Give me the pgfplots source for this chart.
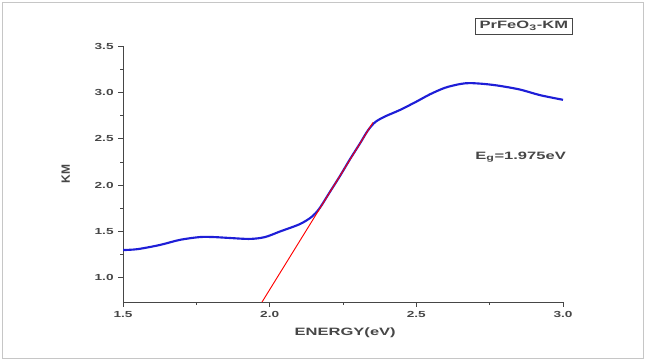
\documentclass[border=0pt]{standalone}
\usepackage{pgfplots}
\pgfplotsset{compat=1.18}
\usepackage{fontspec}
\setmainfont{Liberation Sans}
\newfontfamily\wide[FakeStretch=1.55]{Liberation Sans}
\definecolor{txt}{RGB}{70,70,70}
\definecolor{curve}{RGB}{30,30,215}
\begin{document}
\begin{tikzpicture}
\useasboundingbox (0,0) rectangle (484.5pt,270.75pt);
\draw[gray!45, line width=0.6pt] (2pt,2pt) rectangle (482.5pt,268.75pt);
\begin{axis}[
  at={(92.25pt,44.25pt)}, anchor=south west,
  scale only axis, width=330pt, height=192pt,
  xmin=1.5, xmax=3.0, ymin=0.74, ymax=3.5,
  axis x line*=bottom, axis y line*=left,
  axis line style={txt, line width=0.7pt},
  xtick={1.5,2.0,2.5,3.0}, ytick={1.0,1.5,2.0,2.5,3.0,3.5},
  minor tick num=1,
  tick align=outside,
  major tick length=3.5pt, minor tick length=2pt,
  tick style={txt, line width=0.6pt},
  /pgf/number format/assume math mode=true,
  /pgf/number format/.cd, fixed, fixed zerofill, precision=1, /pgfplots/.cd,
  ticklabel style={font=\wide\fontsize{6.6}{7.5}\selectfont\bfseries, text=txt},
  xlabel={ENERGY(eV)}, ylabel={KM},
  xlabel style={font=\wide\fontsize{8}{10}\selectfont\bfseries, text=txt, at={(axis description cs:0.505,-0.121)}, anchor=center},
  ylabel style={font=\fontsize{9}{10}\selectfont\bfseries, text=txt, at={(axis description cs:-0.13,0.5)}, anchor=center},
  clip mode=individual,
]
\addplot[curve, line width=1.6pt, smooth, tension=0.5] coordinates {
(1.500,1.30) (1.550,1.31) (1.626,1.355) (1.694,1.41) (1.762,1.44) (1.810,1.44)
(1.865,1.43) (1.933,1.42) (1.984,1.44) (2.035,1.50) (2.103,1.58) (2.144,1.66)
(2.170,1.75) (2.206,1.93) (2.240,2.10) (2.274,2.28) (2.308,2.45) (2.335,2.59)
(2.360,2.68) (2.393,2.74) (2.444,2.81) (2.500,2.90) (2.547,2.98) (2.598,3.05)
(2.649,3.09) (2.683,3.10) (2.734,3.09) (2.785,3.07) (2.854,3.03) (2.922,2.97)
(3.000,2.92)
};
\addplot[red, line width=0.7pt] coordinates {(1.974,0.74) (2.352,2.675)};
\node[draw=txt, line width=0.7pt, inner xsep=3pt, inner ysep=2.5pt, font=\wide\fontsize{8}{10}\selectfont\bfseries, text=txt]
  at (axis description cs:0.911,1.078) {PrFeO\textsubscript{3}-KM};
\node[anchor=west, inner sep=0pt, font=\wide\fontsize{8}{10}\selectfont\bfseries, text=txt]
  at (axis description cs:0.80,0.566) {E\textsubscript{g}=1.975eV};
\end{axis}
\end{tikzpicture}
\end{document}
